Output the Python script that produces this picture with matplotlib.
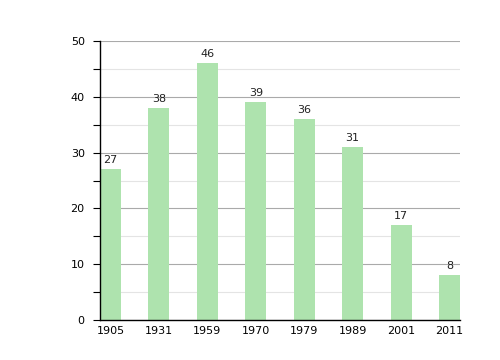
import matplotlib.pyplot as plt
from matplotlib.ticker import MultipleLocator

years = ['1905', '1931', '1959', '1970', '1979', '1989', '2001', '2011']
values = [27, 38, 46, 39, 36, 31, 17, 8]

fig = plt.figure(figsize=(5, 3.6), dpi=100)
ax = fig.add_axes([0.2, 0.111, 0.72, 0.775])

w = 0.43
x = range(len(years))
ax.bar(x, values, width=w, color='#aee3ae', zorder=2)
for i, v in zip(x, values):
    ax.text(i, v + 0.8, str(v), ha='center', va='bottom', fontsize=8, color='#222222')

ax.set_xlim(-w / 2, len(years) - 1 + w / 2)
ax.set_ylim(0, 50)
ax.set_xticks(list(x))
ax.set_xticklabels(years)
ax.yaxis.set_major_locator(MultipleLocator(10))
ax.yaxis.set_minor_locator(MultipleLocator(5))
ax.grid(axis='y', which='major', color='#aaaaaa', lw=0.8, zorder=0)
ax.grid(axis='y', which='minor', color='#e4e4e4', lw=0.8, zorder=0)
ax.tick_params(axis='x', length=0, labelsize=8, pad=4)
ax.tick_params(axis='y', which='both', length=5, width=0.8, labelsize=8, pad=6)
for s in ['top', 'right']:
    ax.spines[s].set_visible(False)
ax.spines['left'].set_linewidth(1)
ax.spines['bottom'].set_linewidth(1)

fig.savefig('out.png')
